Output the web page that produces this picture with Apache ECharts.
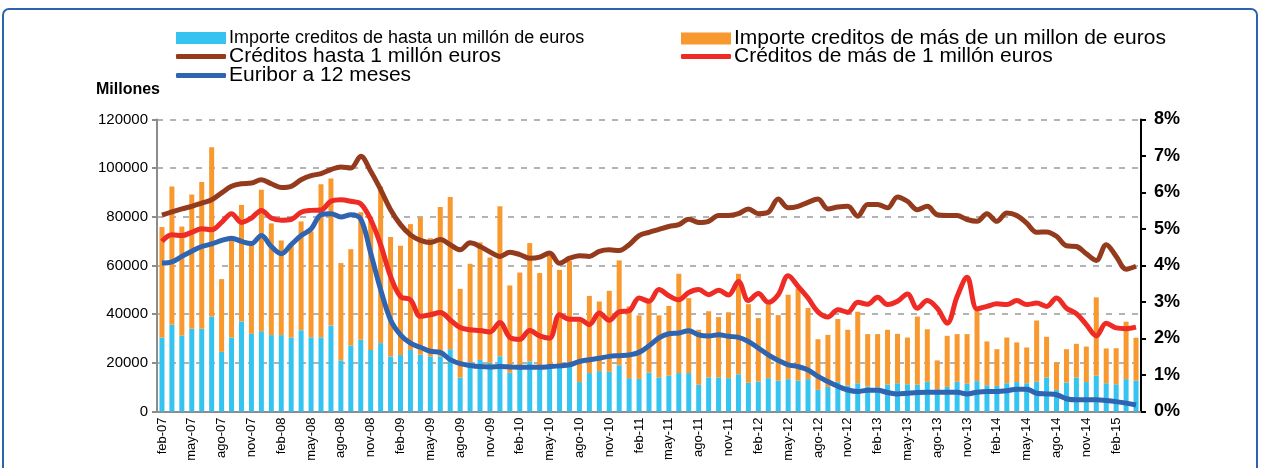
<!DOCTYPE html>
<html>
<head>
<meta charset="utf-8">
<script src="https://cdn.jsdelivr.net/npm/echarts@6/dist/echarts.min.js"></script>
<style>
  html, body { margin: 0; padding: 0; background: #fff; }
  #chart { width: 1262px; height: 468px; }
</style>
</head>
<body>
<div id="chart"></div>
<script>
// meses feb-07 .. abr-15
const meses = [
  'feb-07','mar-07','abr-07','may-07','jun-07','jul-07','ago-07','sep-07','oct-07','nov-07','dic-07',
  'ene-08','feb-08','mar-08','abr-08','may-08','jun-08','jul-08','ago-08','sep-08','oct-08','nov-08','dic-08',
  'ene-09','feb-09','mar-09','abr-09','may-09','jun-09','jul-09','ago-09','sep-09','oct-09','nov-09','dic-09',
  'ene-10','feb-10','mar-10','abr-10','may-10','jun-10','jul-10','ago-10','sep-10','oct-10','nov-10','dic-10',
  'ene-11','feb-11','mar-11','abr-11','may-11','jun-11','jul-11','ago-11','sep-11','oct-11','nov-11','dic-11',
  'ene-12','feb-12','mar-12','abr-12','may-12','jun-12','jul-12','ago-12','sep-12','oct-12','nov-12','dic-12',
  'ene-13','feb-13','mar-13','abr-13','may-13','jun-13','jul-13','ago-13','sep-13','oct-13','nov-13','dic-13',
  'ene-14','feb-14','mar-14','abr-14','may-14','jun-14','jul-14','ago-14','sep-14','oct-14','nov-14','dic-14',
  'ene-15','feb-15','mar-15','abr-15'
];

// importe (millones) creditos hasta un millon
const importeHasta = [
  30400,35600,31200,34000,34000,38900,24500,30400,37000,31900,33000,
  31400,31400,30400,33400,30500,30500,35300,21000,27100,29500,25300,28100,
  22600,23200,25300,23300,22600,22600,25600,14000,20300,21200,20000,22700,
  15900,18500,20600,18500,18500,19000,18500,12100,15800,16600,16300,19000,
  13700,13400,16000,14000,14800,15800,15800,11000,14000,14000,13700,15300,
  11800,12300,13700,12700,13300,12700,13300,8900,10100,12200,10700,11600,
  10300,10000,11000,11600,11200,11000,12200,9200,10100,12200,11400,12500,
  10800,10500,11600,12100,11600,12200,14000,8900,11900,14000,12100,14700,
  11600,11200,13300,12700
];

// importe (millones) creditos de mas de un millon
const importeMas = [
  45400,56900,44800,55200,60300,69700,29900,41600,47900,37100,58100,
  45900,38900,37600,44700,43500,62900,60500,40000,39600,52400,54700,64400,
  49100,44900,51700,56400,48600,61400,62500,36400,40400,48300,43300,61600,
  35900,38600,48600,38400,45600,39200,43400,24900,31700,28600,33300,43100,
  29500,26100,28800,25500,28600,40800,30800,22600,27200,24800,27100,41300,
  32300,26100,30300,26900,34700,37900,29200,20800,21400,25800,22900,29400,
  21500,21800,22600,20300,19200,28000,21600,11800,21000,19600,20400,28800,
  18000,15100,18800,16300,14700,25200,16700,11200,13700,13800,14600,32200,
  14300,14800,23600,17600
];

// tipo (%) creditos hasta 1 millon
const tipoHasta = [
  5.38,5.47,5.55,5.62,5.71,5.80,5.99,6.17,6.24,6.26,6.35,
  6.24,6.14,6.17,6.35,6.46,6.52,6.63,6.70,6.67,6.99,6.58,6.08,
  5.53,5.12,4.84,4.69,4.63,4.71,4.57,4.43,4.62,4.52,4.37,4.25,
  4.36,4.30,4.20,4.23,4.34,4.06,4.20,4.27,4.25,4.39,4.43,4.41,
  4.57,4.82,4.91,4.99,5.07,5.12,5.27,5.18,5.21,5.37,5.37,5.42,
  5.55,5.42,5.46,5.82,5.58,5.62,5.73,5.82,5.55,5.60,5.62,5.35,
  5.67,5.67,5.58,5.88,5.76,5.53,5.62,5.39,5.37,5.37,5.26,5.21,
  5.42,5.21,5.44,5.37,5.16,4.91,4.92,4.80,4.54,4.52,4.32,4.14,
  4.57,4.25,3.90,3.98
];

// tipo (%) creditos de mas de 1 millon
const tipoMas = [
  4.66,4.84,4.82,4.91,5.01,4.98,5.18,5.42,5.18,5.30,5.51,
  5.30,5.24,5.26,5.46,5.51,5.52,5.76,5.80,5.76,5.69,5.26,4.57,
  3.70,3.15,3.06,2.61,2.65,2.71,2.51,2.30,2.24,2.22,2.18,2.44,
  2.03,1.98,2.22,2.07,2.01,2.65,2.53,2.53,2.38,2.70,2.50,2.73,
  2.76,3.11,3.02,3.34,3.17,3.06,3.26,3.34,3.20,3.32,3.19,3.56,
  3.04,3.23,2.99,3.20,3.72,3.43,3.11,2.73,2.59,2.79,2.72,2.99,
  2.94,3.13,2.93,3.02,3.22,2.83,3.04,2.83,2.42,3.15,3.68,2.81,
  2.88,2.95,2.93,3.04,2.93,2.97,2.88,3.11,2.83,2.68,2.38,2.07,
  2.42,2.29,2.27,2.31
];

// euribor 12 meses (%)
const euribor = [
  4.07,4.10,4.25,4.39,4.52,4.59,4.69,4.75,4.66,4.60,4.82,
  4.52,4.32,4.57,4.82,5.00,5.39,5.42,5.33,5.39,5.27,4.34,3.34,
  2.51,2.10,1.87,1.76,1.65,1.62,1.42,1.31,1.26,1.23,1.22,1.23,
  1.22,1.21,1.21,1.21,1.23,1.25,1.28,1.37,1.42,1.46,1.51,1.53,
  1.55,1.62,1.80,2.02,2.13,2.15,2.21,2.10,2.07,2.10,2.06,2.03,
  1.92,1.74,1.55,1.40,1.28,1.23,1.14,0.96,0.82,0.69,0.59,0.55,
  0.58,0.58,0.52,0.48,0.50,0.52,0.53,0.53,0.53,0.53,0.48,0.53,
  0.55,0.55,0.57,0.61,0.61,0.50,0.48,0.46,0.35,0.32,0.32,0.32,
  0.30,0.27,0.23,0.18
];

const nombres = [
  'Importe creditos de hasta un millón de euros',
  'Importe creditos de más de un millon de euros',
  'Créditos hasta 1 millón euros',
  'Créditos de más de 1 millón euros',
  'Euribor a 12 meses'
];

const fuente = '"Liberation Sans", Arial, Helvetica, sans-serif';
const chart = echarts.init(document.getElementById('chart'));

chart.setOption({
  animation: false,
  textStyle: { fontFamily: fuente, color: '#000' },
  graphic: [
    {
      type: 'rect',
      shape: { x: 3, y: 9, width: 1254, height: 480, r: 6 },
      style: { fill: 'none', stroke: '#2a64ad', lineWidth: 2 }
    }
  ],
  legend: [
    {
      left: 171, top: 24, itemWidth: 50, itemHeight: 12, itemGap: 0,
      textStyle: { fontSize: 18, color: '#000', padding: [0, 0, 0, -2] },
      data: [{ name: nombres[0], icon: 'rect' }]
    },
    {
      left: 171, top: 41, orient: 'vertical', itemWidth: 50, itemHeight: 5, itemGap: -2,
      textStyle: { fontSize: 21, color: '#000', padding: [0, 0, 0, -2] },
      data: [{ name: nombres[2], icon: 'roundRect' }, { name: nombres[4], icon: 'roundRect' }]
    },
    {
      left: 676, top: 23, itemWidth: 50, itemHeight: 12, itemGap: 0,
      textStyle: { fontSize: 21, color: '#000', padding: [0, 0, 0, -2] },
      data: [{ name: nombres[1], icon: 'rect' }]
    },
    {
      left: 676, top: 41, itemWidth: 50, itemHeight: 5, itemGap: 0,
      textStyle: { fontSize: 21, color: '#000', padding: [0, 0, 0, -2] },
      data: [{ name: nombres[3], icon: 'roundRect' }]
    }
  ],
  grid: { left: 157, right: 121, top: 119.5, bottom: 56.5 },
  xAxis: {
    type: 'category',
    data: meses,
    axisLine: { lineStyle: { color: '#8c8c8c', width: 2 } },
    axisTick: { interval: 2, length: 5, lineStyle: { color: '#8c8c8c', width: 2 } },
    axisLabel: { interval: 2, rotate: 90, fontSize: 13, color: '#000', margin: 6 }
  },
  yAxis: [
    {
      type: 'value', min: 0, max: 120000, interval: 20000,
      name: 'Millones', nameLocation: 'end', nameGap: 22,
      nameTextStyle: { fontSize: 16, fontWeight: 'bold', color: '#000', align: 'right', padding: [0, -3, 0, 0] },
      axisLine: { show: true, lineStyle: { color: '#8c8c8c', width: 2 } },
      axisTick: { show: true, length: 5, lineStyle: { color: '#8c8c8c', width: 2 } },
      axisLabel: { fontSize: 15, color: '#000', margin: 9, formatter: (v) => String(v) },
      splitLine: { lineStyle: { color: '#b3b3b3', width: 2, type: [6, 7] } }
    },
    {
      type: 'value', min: 0, max: 8, interval: 1, position: 'right',
      axisLine: { show: true, lineStyle: { color: '#000', width: 2 } },
      axisTick: { show: true, length: 5, lineStyle: { color: '#000', width: 2 } },
      axisLabel: { fontSize: 18, fontWeight: 'bold', color: '#000', margin: 13, formatter: '{value}%' },
      splitLine: { show: false }
    }
  ],
  series: [
    {
      name: nombres[0], type: 'bar', stack: 'importe', data: importeHasta,
      barWidth: 5, itemStyle: { color: '#35c4f0' }
    },
    {
      name: nombres[1], type: 'bar', stack: 'importe', data: importeMas,
      barWidth: 5, itemStyle: { color: '#f7992e' }
    },
    {
      name: nombres[2], type: 'line', yAxisIndex: 1, data: tipoHasta, smooth: 0.35,
      showSymbol: false, itemStyle: { color: '#943b1d' }, lineStyle: { color: '#943b1d', width: 5 }
    },
    {
      name: nombres[3], type: 'line', yAxisIndex: 1, data: tipoMas, smooth: 0.35,
      showSymbol: false, itemStyle: { color: '#ee2b24' }, lineStyle: { color: '#ee2b24', width: 5 }
    },
    {
      name: nombres[4], type: 'line', yAxisIndex: 1, data: euribor, smooth: 0.35,
      showSymbol: false, itemStyle: { color: '#2f64b1' }, lineStyle: { color: '#2f64b1', width: 5 }
    }
  ]
});
</script>
</body>
</html>
